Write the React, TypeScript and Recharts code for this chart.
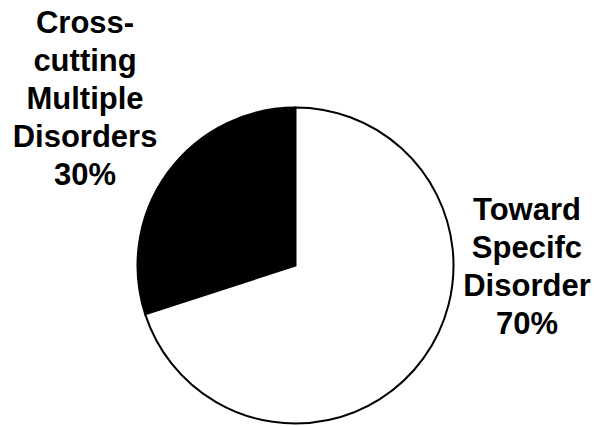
import { PieChart, Pie, Cell } from 'recharts';

const CATEGORIES = ['Cross-cutting Multiple Disorders', 'Toward Specifc Disorder'];
const SHARES = [30, 70];
const LABEL_LINES = [
  ['Cross-', 'cutting', 'Multiple', 'Disorders', '30%'],
  ['Toward', 'Specifc', 'Disorder', '70%'],
];
const FILLS = ['#000000', '#ffffff'];

// label anchor offsets (first baseline), in units of the pie radius
const LABEL_OFFSETS = [
  { dx: -1.332, dy: -1.471 },
  { dx: 1.465, dy: -0.288 },
];

const data = CATEGORIES.map((name, i) => ({ name, value: SHARES[i] }));

const LINE_HEIGHT = 38;

function renderLabel(props: any) {
  const { cx, cy, outerRadius, index } = props;
  const off = LABEL_OFFSETS[index];
  const x = cx + off.dx * outerRadius;
  const y = cy + off.dy * outerRadius;
  return (
    <text
      x={x}
      y={y}
      textAnchor="middle"
      fill="#000"
      fontFamily="'Liberation Sans', Arial, sans-serif"
      fontWeight="bold"
      fontSize={31}
    >
      {LABEL_LINES[index].map((line, i) => (
        <tspan key={line} x={x} y={y + i * LINE_HEIGHT}>
          {line}
        </tspan>
      ))}
    </text>
  );
}

export default function App() {
  return (
    <div style={{ position: 'absolute', left: 0, top: 0, background: '#fff' }}>
      <PieChart width={595} height={426} margin={{ top: 0, right: 0, bottom: 0, left: 0 }}>
        <Pie
          data={data}
          dataKey="value"
          cx={295.5}
          cy={265.5}
          outerRadius={158}
          startAngle={90}
          endAngle={450}
          stroke="#000"
          strokeWidth={2}
          label={renderLabel}
          labelLine={false}
          isAnimationActive={false}
        >
          {data.map((entry, index) => (
            <Cell key={`cell-${index}`} fill={FILLS[index]} />
          ))}
        </Pie>
      </PieChart>
    </div>
  );
}
